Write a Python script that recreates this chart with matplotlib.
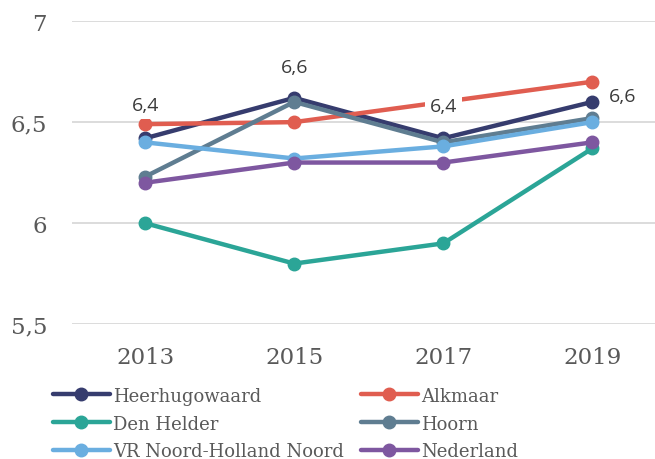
import matplotlib.pyplot as plt

years = ['2013', '2015', '2017', '2019']
heerhugowaard = [6.42, 6.62, 6.42, 6.60]
alkmaar = [6.49, 6.50, 6.60, 6.70]
den_helder = [6.00, 5.80, 5.90, 6.37]
hoorn = [6.23, 6.60, 6.40, 6.52]
vr_nhn = [6.40, 6.32, 6.38, 6.50]
nederland = [6.20, 6.30, 6.30, 6.40]

hh_labels = ['6,4', '6,6', '6,4', '6,6']

series = [
    ('Heerhugowaard', heerhugowaard, '#363c6e'),
    ('Alkmaar', alkmaar, '#e05d50'),
    ('Den Helder', den_helder, '#2ba597'),
    ('Hoorn', hoorn, '#5f7d91'),
    ('VR Noord-Holland Noord', vr_nhn, '#6aaee0'),
    ('Nederland', nederland, '#7e57a0'),
]

fig = plt.figure(figsize=(6.55, 4.6), dpi=100)
ax = fig.add_axes([0.11, 0.293, 0.89, 0.659])

x = range(len(years))
handles = {}
for name, vals, col in series:
    h, = ax.plot(x, vals, color=col, lw=3.2, marker='o', ms=9,
                 solid_capstyle='round', label=name)
    handles[name] = h

# data labels for Heerhugowaard
offsets = [(0, 24), (0, 22), (0, 23), (22, 4)]
for i, (lab, off) in enumerate(zip(hh_labels, offsets)):
    ax.annotate(lab, (i, heerhugowaard[i]), xytext=off, textcoords='offset points',
                ha='center', va='center', fontsize=14, color='#3a3a3a',
                family='Open Sans',
                bbox=dict(boxstyle='square,pad=0.25', fc='white', ec='none'))

ax.set_ylim(5.5, 7)
ax.set_xlim(-0.49, 3.42)
ax.set_yticks([5.5, 6, 6.5, 7])
ax.set_yticklabels(['5,5', '6', '6,5', '7'])
ax.set_xticks(list(x))
ax.set_xticklabels(years)
ax.tick_params(length=0, labelsize=16.5, labelcolor='#595959')
ax.tick_params(axis='y', pad=18)
ax.tick_params(axis='x', pad=16)
for lbl in ax.get_xticklabels() + ax.get_yticklabels():
    lbl.set_family('DejaVu Serif')
ax.yaxis.grid(True, color='#d9d9d9', lw=1.3)
ax.set_axisbelow(True)
for s in ax.spines.values():
    s.set_visible(False)

order = ['Heerhugowaard', 'Den Helder', 'VR Noord-Holland Noord',
         'Alkmaar', 'Hoorn', 'Nederland']
fig.legend([handles[n] for n in order], order, ncol=2, loc='upper left',
           bbox_to_anchor=(0.081, 0.157), frameon=False, handlelength=3.15,
           handletextpad=0.17, columnspacing=0.95, labelspacing=0.54,
           prop={'family': 'DejaVu Serif', 'size': 13}, labelcolor='#595959',
           borderaxespad=0, borderpad=0)

fig.savefig('out.png', dpi=100)
